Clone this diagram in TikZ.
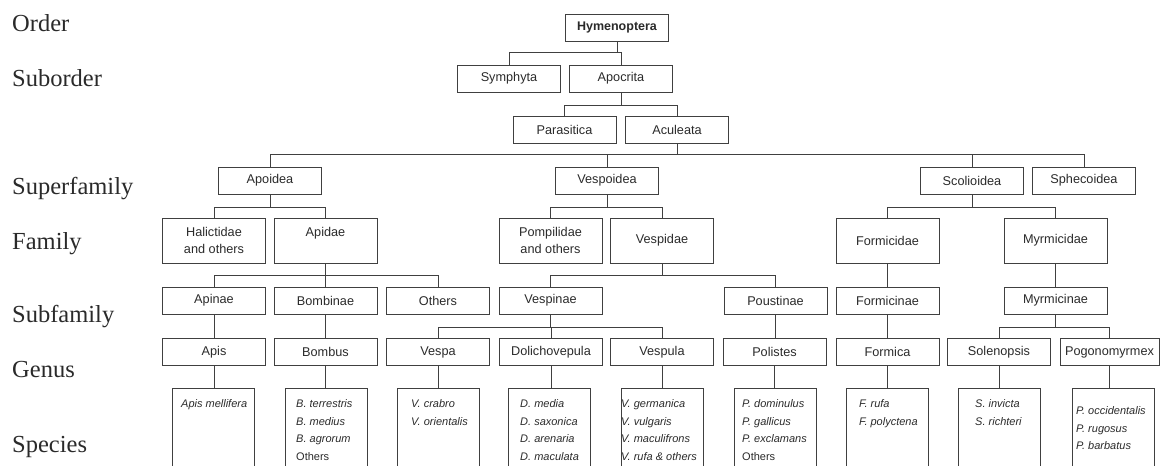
\documentclass[tikz,border=0pt]{standalone}
\usepackage{fontspec}
\setmainfont{Liberation Serif}
\newfontfamily\arialf{Liberation Sans}
\definecolor{linec}{HTML}{404040}
\definecolor{txtc}{HTML}{2A2A2A}
\begin{document}
\begin{tikzpicture}[x=1pt,y=-1pt,
  box/.style={draw=linec, line width=0.9pt, minimum width=103pt, minimum height=27pt, inner sep=0pt, font=\arialf\fontsize{12.7}{17}\selectfont, text=txtc, align=center},
  tall/.style={box, minimum height=45pt},
  spbox/.style={draw=linec, line width=0.9pt, minimum width=82pt, minimum height=110pt, inner sep=0pt, anchor=north},
  sptext/.style={anchor=north west, inner sep=0pt, font=\arialf\itshape\fontsize{11}{17.5}\selectfont, text=txtc, align=left},
  rank/.style={anchor=base west, inner sep=0pt, font=\fontsize{24.5}{28}\selectfont, text=txtc},
  conn/.style={draw=linec, line width=0.9pt}
]
\useasboundingbox (0,0) rectangle (1163,466);
\clip (0,0) rectangle (1163,466);

% rank labels
\node[rank] (rOrder) at (12,31) {Order};
\node[rank] (rSuborder) at (12,86) {Suborder};
\node[rank] (rSuperfamily) at (12,194) {Superfamily};
\node[rank] (rFamily) at (12,249) {Family};
\node[rank] (rSubfamily) at (12,322) {Subfamily};
\node[rank] (rGenus) at (12,377) {Genus};
\node[rank] (rSpecies) at (12,452) {Species};

% order / suborder
\node[box, font=\arialf\bfseries\fontsize{12.5}{17}\selectfont] (hym) at (617,27.5) {Hymenoptera};
\node[box] (sym) at (509,78.5) {Symphyta};
\node[box] (apo) at (621,78.5) {Apocrita};
\node[box] (par) at (564.5,129.5) {Parasitica};
\node[box] (acu) at (677,129.5) {Aculeata};

% superfamily
\node[box] (apoi) at (270,180.5) {Apoidea};
\node[box] (vespoi) at (607,180.5) {Vespoidea};
\node[box] (scol) at (972,180.5) {Scolioidea};
\node[box] (sphe) at (1084,180.5) {Sphecoidea};

% family
\node[tall] (hal) at (214,240.5) {Halictidae\\and others};
\node[tall] (apid) at (325.5,240.5) {Apidae\\~};
\node[tall] (pomp) at (550.5,240.5) {Pompilidae\\and others};
\node[tall] (vespid) at (662,240.5) {Vespidae};
\node[tall] (formid) at (887.5,240.5) {Formicidae};
\node[tall] (myrmid) at (1055.5,240.5) {Myrmicidae};

% subfamily
\node[box] (apin) at (214,300.5) {Apinae};
\node[box] (bomb) at (325.5,300.5) {Bombinae};
\node[box] (oth) at (438,300.5) {Others};
\node[box] (vespin) at (550.5,300.5) {Vespinae};
\node[box] (pous) at (775.5,300.5) {Poustinae};
\node[box] (formin) at (887.5,300.5) {Formicinae};
\node[box] (myrmin) at (1055.5,300.5) {Myrmicinae};

% genus
\node[box] (apis) at (214,352) {Apis};
\node[box] (bombus) at (325.5,352) {Bombus};
\node[box] (vespa) at (438,352) {Vespa};
\node[box] (dolich) at (551,352) {Dolichovepula};
\node[box] (vespula) at (662,352) {Vespula};
\node[box] (polis) at (774.5,352) {Polistes};
\node[box] (formica) at (887.5,352) {Formica};
\node[box] (solen) at (999,352) {Solenopsis};
\node[box, minimum width=99pt] (pogon) at (1109.5,352) {Pogonomyrmex};

% species boxes
\node[spbox] (sApis) at (213,388) {};
\node[spbox] (sBombus) at (326.5,388) {};
\node[spbox] (sVespa) at (438,388) {};
\node[spbox] (sDolich) at (549.5,388) {};
\node[spbox] (sVespula) at (662,388) {};
\node[spbox] (sPolis) at (775.5,388) {};
\node[spbox] (sFormica) at (887,388) {};
\node[spbox] (sSolen) at (999.5,388) {};
\node[spbox] (sPogon) at (1113,388) {};

% species texts
\node[sptext] (tApis) at (181,399.5) {Apis mellifera};
\node[sptext] (tBombus) at (296,399.5) {B. terrestris\\B. medius\\B. agrorum\\\upshape Others};
\node[sptext] (tVespa) at (411,399.5) {V. crabro\\V. orientalis};
\node[sptext] (tDolich) at (520,399.5) {D. media\\D. saxonica\\D. arenaria\\D. maculata};
\node[sptext] (tVespula) at (621,399.5) {V. germanica\\V. vulgaris\\V. maculifrons\\V. rufa \& others};
\node[sptext] (tPolis) at (742,399.5) {P. dominulus\\P. gallicus\\P. exclamans\\\upshape Others};
\node[sptext] (tFormica) at (859,399.5) {F. rufa\\F. polyctena};
\node[sptext] (tSolen) at (975,399.5) {S. invicta\\S. richteri};
\node[sptext] (tPogon) at (1076,406.5) {P. occidentalis\\P. rugosus\\P. barbatus};

% connectors
\draw[conn] (hym.south) -- (hym.south |- 0,52) -| (sym.north);
\draw[conn] (hym.south |- 0,52) -| (apo.north);
\draw[conn] (apo.south) -- (apo.south |- 0,105) -| (par.north);
\draw[conn] (apo.south |- 0,105) -| (acu.north);
\draw[conn] (acu.south) -- (acu.south |- 0,154);
\draw[conn] (apoi.north) |- (sphe.north |- 0,154) -- (sphe.north);
\draw[conn] (vespoi.north) -- (vespoi.north |- 0,154);
\draw[conn] (scol.north) -- (scol.north |- 0,154);

\draw[conn] (apoi.south) -- (apoi.south |- 0,207) -| (hal.north);
\draw[conn] (apoi.south |- 0,207) -| (apid.north);
\draw[conn] (vespoi.south) -- (vespoi.south |- 0,207) -| (pomp.north);
\draw[conn] (vespoi.south |- 0,207) -| (vespid.north);
\draw[conn] (scol.south) -- (scol.south |- 0,207) -| (formid.north);
\draw[conn] (scol.south |- 0,207) -| (myrmid.north);

\draw[conn] (apid.south) -- (apid.south |- 0,275) -| (apin.north);
\draw[conn] (apid.south |- 0,275) -| (bomb.north);
\draw[conn] (apid.south |- 0,275) -| (oth.north);
\draw[conn] (vespid.south) -- (vespid.south |- 0,275) -| (vespin.north);
\draw[conn] (vespid.south |- 0,275) -| (pous.north);
\draw[conn] (formid.south) -- (formin.north);
\draw[conn] (myrmid.south) -- (myrmin.north);

\draw[conn] (apin.south) -- (apis.north);
\draw[conn] (bomb.south) -- (bombus.north);
\draw[conn] (vespin.south) -- (vespin.south |- 0,327) -| (vespa.north);
\draw[conn] (vespin.south |- 0,327) -| (dolich.north);
\draw[conn] (vespin.south |- 0,327) -| (vespula.north);
\draw[conn] (pous.south) -- (pous.south |- polis.north);
\draw[conn] (formin.south) -- (formica.north);
\draw[conn] (myrmin.south) -- (myrmin.south |- 0,327) -| (solen.north);
\draw[conn] (myrmin.south |- 0,327) -| (pogon.north);

\draw[conn] (apis.south) -- (apis.south |- sApis.north);
\draw[conn] (bombus.south) -- (bombus.south |- sBombus.north);
\draw[conn] (vespa.south) -- (vespa.south |- sVespa.north);
\draw[conn] (dolich.south) -- (dolich.south |- sDolich.north);
\draw[conn] (vespula.south) -- (vespula.south |- sVespula.north);
\draw[conn] (polis.south) -- (polis.south |- sPolis.north);
\draw[conn] (formica.south) -- (formica.south |- sFormica.north);
\draw[conn] (solen.south) -- (solen.south |- sSolen.north);
\draw[conn] (pogon.south) -- (pogon.south |- sPogon.north);
\end{tikzpicture}
\end{document}
